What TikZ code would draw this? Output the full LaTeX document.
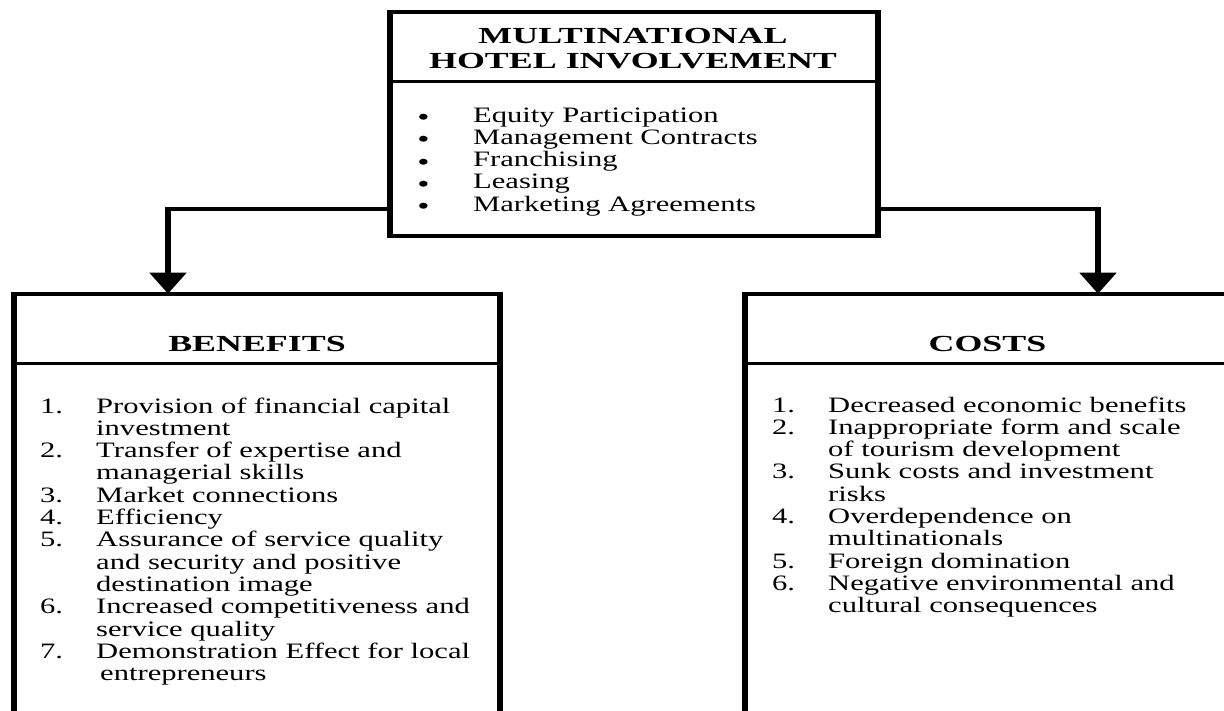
\documentclass[tikz,border=0pt]{standalone}
\usepackage{fontspec}
\setmainfont{Liberation Serif}
\newfontfamily\bodyfont{Liberation Serif}[FakeStretch=1.39]
\newfontfamily\headfont{Liberation Serif}[FakeStretch=1.56]
\usetikzlibrary{arrows.meta}
\newcommand\myitem[2]{\hbox{\hbox to 56pt{#1\hfil}#2}}
\newcommand\mycont[1]{\hbox{\hskip 56pt #1}}
\newcommand\mybul[1]{\hbox{\hbox to 55pt{\raisebox{-2.5pt}[0pt][0pt]{\bfseries\textbullet}\hfil}#1}}
\begin{document}
\begin{tikzpicture}[x=1pt,y=-1pt,
  frame/.style={draw=none,inner sep=0pt,anchor=north west},
  boxline/.style={line width=4pt},
  vside/.style={line width=6pt},
  sepline/.style={line width=3pt},
  conn/.style={line width=4pt},
  connv/.style={line width=6pt,-{Triangle[width=36pt,length=21pt]}},
  head/.style={font=\headfont\bfseries\fontsize{23}{25}\selectfont,inner sep=0pt,anchor=base},
  body/.style={font=\bodyfont\fontsize{22}{22.3}\selectfont,inner sep=0pt,anchor=base west}
]
\useasboundingbox (0,0) rectangle (1224,710);
\begin{scope}
\clip (0,0) rectangle (1224,710);

% boxes
\node[frame,minimum width=487.5pt,minimum height=223.5pt] (top) at (390,12) {};
\node[frame,minimum width=486pt,minimum height=460pt] (ben) at (14,293.7) {};
\node[frame,minimum width=486pt,minimum height=460pt] (cost) at (744.5,293.7) {};

\coordinate (s1) at (0,81);
\coordinate (s2) at (0,363);

\foreach \b in {top,ben,cost}{
  \draw[boxline] (\b.north west) rectangle (\b.south east);
  \draw[vside] ([yshift=2pt]\b.north west) -- ([yshift=-2pt]\b.south west);
  \draw[vside] ([yshift=2pt]\b.north east) -- ([yshift=-2pt]\b.south east);
}
\draw[sepline] (top.west |- s1) -- (top.east |- s1);
\draw[sepline] (ben.west |- s2) -- (ben.east |- s2);
\draw[sepline] (cost.west |- s2) -- (cost.east |- s2);

% connectors
\coordinate (lbend) at (168,209);
\coordinate (rbend) at (1098,209);
\draw[conn] (top.west |- lbend) -- ([xshift=-3pt]lbend);
\draw[connv] ([yshift=2pt]lbend) -- (ben.north -| lbend);
\draw[conn] (top.east |- rbend) -- ([xshift=3pt]rbend);
\draw[connv] ([yshift=2pt]rbend) -- (cost.north -| rbend);

% headings
\node[head] (h1) at (633,43) {MULTINATIONAL};
\node[head] (h2) at (633,68) {HOTEL INVOLVEMENT};
\node[head] (hb) at (257,351) {BENEFITS};
\node[head] (hc) at (987.5,351) {COSTS};

% lists
\node[body] (tlist) at (418,122) {\vtop{
  \mybul{Equity Participation}
  \mybul{Management Contracts}
  \mybul{Franchising}
  \mybul{Leasing}
  \mybul{Marketing Agreements}}};

\node[body] (blist) at (40,413) {\vtop{
  \myitem{1.}{Provision of financial capital}
  \mycont{investment}
  \myitem{2.}{Transfer of expertise and}
  \mycont{managerial skills}
  \myitem{3.}{Market connections}
  \myitem{4.}{Efficiency}
  \myitem{5.}{Assurance of service quality}
  \mycont{and security and positive}
  \mycont{destination image}
  \myitem{6.}{Increased competitiveness and}
  \mycont{service quality}
  \myitem{7.}{Demonstration Effect for local}
  \mycont{\hskip 4pt entrepreneurs}}};

\node[body] (clist) at (772,412) {\vtop{
  \myitem{1.}{Decreased economic benefits}
  \myitem{2.}{Inappropriate form and scale}
  \mycont{of tourism development}
  \myitem{3.}{Sunk costs and investment}
  \mycont{risks}
  \myitem{4.}{Overdependence on}
  \mycont{multinationals}
  \myitem{5.}{Foreign domination}
  \myitem{6.}{Negative environmental and}
  \mycont{cultural consequences}}};
\end{scope}
\end{tikzpicture}
\end{document}
